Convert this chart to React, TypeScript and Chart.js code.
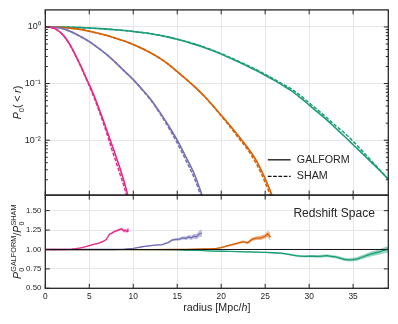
import React, { useEffect, useRef } from "react";
import { Chart, registerables } from "chart.js";

Chart.register(...registerables);

// ---------- axis ranges & ticks ----------
const xMin = 0;
const xMax = 39;
const xTicks = [0, 5, 10, 15, 20, 25, 30, 35];
const xTickLabels = ["0", "5", "10", "15", "20", "25", "30", "35"];
const logMin = 0.00107;
const logMax = 2.0;
const logTicks = [1, 0.1, 0.01];
const logTickLabels = ["10⁰", "10⁻¹", "10⁻²"];
const logMinorTicks = [
  0.002, 0.003, 0.004, 0.005, 0.006, 0.007, 0.008, 0.009,
  0.02, 0.03, 0.04, 0.05, 0.06, 0.07, 0.08, 0.09,
  0.2, 0.3, 0.4, 0.5, 0.6, 0.7, 0.8, 0.9,
];
const ratioMin = 0.5;
const ratioMax = 1.7;
const ratioTicks = [0.5, 0.75, 1.0, 1.25, 1.5];
const ratioTickLabels = ["0.50", "0.75", "1.00", "1.25", "1.50"];

// ---------- top panel: P0(<r) ----------
const pinkR = [0, 0.5, 1, 1.5, 2, 2.5, 3, 3.5, 4, 4.5, 5, 5.5, 6, 6.5, 7, 7.5, 8, 8.5, 9, 9.5];
const pinkGalform = [1, 0.991, 0.944, 0.851, 0.724, 0.575, 0.427, 0.302, 0.209, 0.141, 0.0955, 0.0631, 0.0398, 0.0245, 0.0148, 0.00891, 0.00537, 0.00316, 0.00178, 0.00089];
const pinkSham = [1, 0.991, 0.944, 0.851, 0.724, 0.575, 0.4245, 0.299, 0.2048, 0.1365, 0.091, 0.059, 0.0367, 0.0223, 0.0131, 0.00736, 0.00433, 0.00251, 0.00144, 0.00071];

const purpleR = [0, 1, 2, 3, 4, 5, 6, 7, 8, 9, 10, 11, 12, 13, 14, 15, 16, 17, 18];
const purpleGalform = [1, 0.9886, 0.9333, 0.8128, 0.6761, 0.5495, 0.4266, 0.3236, 0.2344, 0.166, 0.1175, 0.0794, 0.0525, 0.0316, 0.0182, 0.01, 0.00501, 0.0024, 0.000891];
const purpleSham = [1, 0.9886, 0.9333, 0.8128, 0.6761, 0.5495, 0.4266, 0.3236, 0.2344, 0.166, 0.1169, 0.0779, 0.0505, 0.0301, 0.01685, 0.00893, 0.00436, 0.00203, 0.000743];

const orangeR = [0, 1, 2, 3, 4, 5, 6, 7, 8, 9, 10, 11, 12, 13, 14, 15, 16, 17, 18, 19, 20, 21, 22, 23, 24, 25, 26];
const orangeGalform = [1, 0.9954, 0.9772, 0.9441, 0.9016, 0.8414, 0.7762, 0.7079, 0.631, 0.5623, 0.4898, 0.4169, 0.3467, 0.2818, 0.2188, 0.1622, 0.1202, 0.0871, 0.0617, 0.0417, 0.0275, 0.0182, 0.01175, 0.00741, 0.00437, 0.00209, 0.00087];
const orangeSham = [1, 0.9954, 0.9772, 0.9441, 0.9016, 0.8414, 0.7762, 0.7079, 0.631, 0.5623, 0.4898, 0.4169, 0.3467, 0.2818, 0.2188, 0.1622, 0.1202, 0.0868, 0.0613, 0.0413, 0.02687, 0.01725, 0.01083, 0.00686, 0.00383, 0.00179, 0.00074];

const greenR = [0, 1, 2, 3, 4, 5, 6, 7, 8, 9, 10, 11, 12, 13, 14, 15, 16, 17, 18, 19, 20, 21, 22, 23, 24, 25, 26, 27, 28, 29, 30, 31, 32, 33, 34, 35, 36, 37, 38, 39];
const greenGalform = [1, 0.9977, 0.9931, 0.984, 0.9727, 0.9572, 0.9376, 0.9162, 0.8913, 0.863, 0.8318, 0.7962, 0.7586, 0.7112, 0.6607, 0.6053, 0.5495, 0.492, 0.4365, 0.3819, 0.3311, 0.2831, 0.2399, 0.2028, 0.1698, 0.1403, 0.1148, 0.0927, 0.0741, 0.0562, 0.0417, 0.0309, 0.0229, 0.0164, 0.01175, 0.00832, 0.00589, 0.00417, 0.00295, 0.00204];
const greenSham = [1, 0.9977, 0.9931, 0.984, 0.9727, 0.9572, 0.9376, 0.9162, 0.8913, 0.863, 0.8318, 0.7962, 0.7586, 0.7112, 0.6607, 0.6083, 0.5551, 0.498, 0.4431, 0.3897, 0.3389, 0.2904, 0.2468, 0.2095, 0.1758, 0.1457, 0.1198, 0.0976, 0.0797, 0.0614, 0.0456, 0.034, 0.0249, 0.0181, 0.01347, 0.00956, 0.00654, 0.00444, 0.00304, 0.00203];

// ---------- bottom panel: GALFORM / SHAM ----------
const pinkRatioR = [0, 1, 2, 2.5, 3, 3.5, 4, 4.5, 5, 5.5, 6, 6.5, 6.9, 7.1, 7.3, 7.5, 7.7, 7.9, 8.1, 8.3, 8.5, 8.7, 8.9, 9.1, 9.3, 9.4];
const pinkRatio = [1, 1, 1, 1.001, 1.005, 1.012, 1.022, 1.035, 1.05, 1.065, 1.08, 1.1, 1.125, 1.16, 1.2, 1.205, 1.22, 1.235, 1.24, 1.25, 1.26, 1.265, 1.24, 1.245, 1.235, 1.27];
const pinkRatioErr = [0.002, 0.002, 0.003, 0.003, 0.004, 0.004, 0.005, 0.005, 0.006, 0.006, 0.007, 0.008, 0.009, 0.01, 0.01, 0.011, 0.012, 0.013, 0.014, 0.015, 0.016, 0.018, 0.02, 0.022, 0.025, 0.035];

const purpleRatioR = [0, 2, 4, 6, 8, 9, 10, 10.5, 11, 11.5, 12, 12.5, 13, 13.3, 13.6, 14, 14.4, 14.8, 15.2, 15.6, 16, 16.3, 16.6, 16.9, 17.2, 17.5, 17.8];
const purpleRatio = [1, 1, 1, 1, 1, 1.005, 1.015, 1.025, 1.035, 1.042, 1.05, 1.055, 1.06, 1.062, 1.075, 1.09, 1.12, 1.13, 1.13, 1.15, 1.145, 1.16, 1.15, 1.17, 1.165, 1.2, 1.21];
const purpleRatioErr = [0.002, 0.002, 0.003, 0.003, 0.004, 0.004, 0.005, 0.005, 0.006, 0.006, 0.007, 0.008, 0.009, 0.01, 0.011, 0.012, 0.014, 0.016, 0.018, 0.02, 0.022, 0.025, 0.028, 0.03, 0.035, 0.04, 0.05];

const orangeRatioR = [0, 4, 8, 12, 15, 16, 17, 18, 19, 19.5, 20, 20.5, 21, 21.5, 22, 22.5, 23, 23.5, 24, 24.5, 25, 25.3, 25.6];
const orangeRatio = [0.998, 0.998, 0.998, 0.999, 1.0, 1.002, 1.004, 1.006, 1.01, 1.015, 1.025, 1.04, 1.055, 1.07, 1.085, 1.1, 1.085, 1.13, 1.145, 1.15, 1.17, 1.2, 1.16];
const orangeRatioErr = [0.002, 0.002, 0.002, 0.003, 0.004, 0.004, 0.005, 0.006, 0.007, 0.008, 0.009, 0.01, 0.012, 0.014, 0.015, 0.017, 0.019, 0.021, 0.024, 0.027, 0.03, 0.04, 0.05];

const greenRatioR = [0, 5, 10, 15, 16, 17, 18, 19, 20, 21, 22, 23, 24, 25, 26, 27, 27.5, 28, 28.5, 29, 29.5, 30, 30.5, 31, 31.5, 32, 32.5, 33, 33.5, 34, 34.5, 35, 35.5, 36, 36.5, 37, 37.5, 38, 38.5, 39];
const greenRatio = [0.999, 0.998, 0.998, 0.995, 0.99, 0.988, 0.985, 0.98, 0.977, 0.975, 0.972, 0.968, 0.966, 0.963, 0.958, 0.95, 0.94, 0.93, 0.92, 0.915, 0.912, 0.914, 0.913, 0.91, 0.915, 0.92, 0.912, 0.905, 0.89, 0.872, 0.865, 0.87, 0.88, 0.9, 0.92, 0.94, 0.955, 0.97, 0.99, 1.005];
const greenRatioErr = [0.002, 0.002, 0.003, 0.004, 0.004, 0.005, 0.005, 0.006, 0.006, 0.007, 0.007, 0.008, 0.008, 0.009, 0.009, 0.01, 0.011, 0.012, 0.013, 0.014, 0.015, 0.015, 0.016, 0.016, 0.017, 0.018, 0.018, 0.019, 0.02, 0.02, 0.021, 0.022, 0.024, 0.026, 0.028, 0.03, 0.032, 0.034, 0.037, 0.04];

const unityX = [0, 39];
const unityY = [1, 1];

// ---------- style ----------
const FONT = "'Liberation Sans', Arial, sans-serif";
const TEXT = "#262626";
const FRAME = "#262626";
const GRID = "#e6e6e6";
const PINK = "#e7298a";
const PURPLE = "#7570b3";
const ORANGE = "#d95f02";
const GREEN = "#1b9e77";
const alpha = (hex: string, a: number) => {
  const n = parseInt(hex.slice(1), 16);
  return `rgba(${(n >> 16) & 255},${(n >> 8) & 255},${n & 255},${a})`;
};

const pts = (xs: number[], ys: number[]) => xs.map((x, i) => ({ x, y: ys[i] }));

function topPair(r: number[], gal: number[], sham: number[], color: string) {
  return [
    {
      data: pts(r, sham), yAxisID: "y", borderColor: color, borderWidth: 1.5,
      borderDash: [3.7, 1.6], pointRadius: 0, fill: false, cubicInterpolationMode: "monotone", order: 1,
    },
    {
      data: pts(r, gal), yAxisID: "y", borderColor: color, borderWidth: 1.6,
      pointRadius: 0, fill: false, cubicInterpolationMode: "monotone", order: 2,
    },
  ];
}

function ratioSet(r: number[], v: number[], e: number[], color: string) {
  const lo = v.map((y, i) => y - e[i]);
  const hi = v.map((y, i) => y + e[i]);
  return [
    { data: pts(r, lo), yAxisID: "y2", borderWidth: 0, pointRadius: 0, fill: false, order: 5 },
    {
      data: pts(r, hi), yAxisID: "y2", borderWidth: 0, pointRadius: 0, fill: "-1",
      backgroundColor: alpha(color, 0.45), order: 5,
    },
    { data: pts(r, v), yAxisID: "y2", borderColor: color, borderWidth: 1.3, pointRadius: 0, fill: false, order: 3 },
  ];
}

type Piece = { t: string; size: number; italic?: boolean; dy?: number; pre?: number; gap?: number };

function drawMath(ctx: CanvasRenderingContext2D, groups: Piece[][], x: number, y: number, angle: number) {
  const f = (p: Piece) => `${p.italic ? "italic " : ""}${p.size}px ${FONT}`;
  const widths = groups.map((g) =>
    Math.max(...g.map((p) => { ctx.font = f(p); return ctx.measureText(p.t).width + (p.pre || 0) + (p.gap || 0); }))
  );
  const total = widths.reduce((a, b) => a + b, 0);
  ctx.save();
  ctx.translate(x, y);
  ctx.rotate(angle);
  ctx.textAlign = "left";
  ctx.textBaseline = "alphabetic";
  ctx.fillStyle = TEXT;
  let cx = -total / 2;
  groups.forEach((g, i) => {
    g.forEach((p) => { ctx.font = f(p); ctx.fillText(p.t, cx + (p.pre || 0), p.dy || 0); });
    cx += widths[i];
  });
  ctx.restore();
}

const framePlugin = {
  id: "framePlugin",
  beforeDatasetDraw(chart: any, args: any) {
    const ds = chart.data.datasets[args.index];
    const sc = chart.scales[ds.yAxisID];
    const ca = chart.chartArea;
    const ctx = chart.ctx;
    ctx.save();
    ctx.beginPath();
    ctx.rect(ca.left, sc.top, ca.right - ca.left, sc.bottom - sc.top);
    ctx.clip();
  },
  afterDatasetDraw(chart: any) {
    chart.ctx.restore();
  },
  afterDraw(chart: any) {
    const ctx: CanvasRenderingContext2D = chart.ctx;
    const ca = chart.chartArea;
    const xs = chart.scales.x;
    const ys = chart.scales.y;
    const rs = chart.scales.y2;
    const MAJ = 4.5;
    const MIN = 2.5;
    ctx.save();
    ctx.strokeStyle = FRAME;
    ctx.lineWidth = 1;
    ctx.beginPath();
    for (const p of [ys, rs]) {
      for (const v of xTicks) {
        const x = xs.getPixelForValue(v);
        ctx.moveTo(x, p.top); ctx.lineTo(x, p.top + MAJ);
        ctx.moveTo(x, p.bottom); ctx.lineTo(x, p.bottom - MAJ);
      }
    }
    for (const v of logTicks) {
      const y = ys.getPixelForValue(v);
      ctx.moveTo(ca.left, y); ctx.lineTo(ca.left + MAJ, y);
      ctx.moveTo(ca.right, y); ctx.lineTo(ca.right - MAJ, y);
    }
    for (const v of logMinorTicks) {
      const y = ys.getPixelForValue(v);
      ctx.moveTo(ca.left, y); ctx.lineTo(ca.left + MIN, y);
      ctx.moveTo(ca.right, y); ctx.lineTo(ca.right - MIN, y);
    }
    for (const v of ratioTicks) {
      const y = rs.getPixelForValue(v);
      ctx.moveTo(ca.left, y); ctx.lineTo(ca.left + MAJ, y);
      ctx.moveTo(ca.right, y); ctx.lineTo(ca.right - MAJ, y);
    }
    ctx.stroke();

    ctx.lineWidth = 1.3;
    ctx.strokeRect(ca.left, ys.top, ca.right - ca.left, ys.bottom - ys.top);
    ctx.strokeRect(ca.left, rs.top, ca.right - ca.left, rs.bottom - rs.top);

    // legend
    const lx0 = xs.getPixelForValue(25.3);
    const lx1 = xs.getPixelForValue(27.9);
    const ly1 = ys.getPixelForValue(0.0045);
    const ly2 = ys.getPixelForValue(0.0023);
    ctx.strokeStyle = "#111";
    ctx.lineWidth = 1.3;
    ctx.beginPath(); ctx.moveTo(lx0, ly1); ctx.lineTo(lx1, ly1); ctx.stroke();
    ctx.setLineDash([3.7, 1.6]);
    ctx.beginPath(); ctx.moveTo(lx0, ly2); ctx.lineTo(lx1, ly2); ctx.stroke();
    ctx.setLineDash([]);
    ctx.fillStyle = TEXT;
    ctx.font = `10.7px ${FONT}`;
    ctx.textAlign = "left";
    ctx.textBaseline = "middle";
    const tx = xs.getPixelForValue(28.6);
    ctx.fillText("GALFORM", tx, ly1);
    ctx.fillText("SHAM", tx, ly2);

    // panel annotation
    ctx.font = `12px ${FONT}`;
    ctx.textAlign = "right";
    ctx.fillText("Redshift Space", ca.right - 13.5, rs.getPixelForValue(1.455));

    // axis titles
    drawMath(ctx, [[{ t: "radius [Mpc/", size: 10.7 }], [{ t: "h", size: 10.7, italic: true }], [{ t: "]", size: 10.7 }]],
      (ca.left + ca.right) / 2, 310.7, 0);
    drawMath(ctx, [
      [{ t: "P", size: 10.7, italic: true }],
      [{ t: "0", size: 7.5, dy: 2.6 }],
      [{ t: "(", size: 10.7, gap: 0.5 }],
      [{ t: "<", size: 10.7, pre: 2.2, gap: 2.6 }],
      [{ t: "r", size: 10.7, italic: true }],
      [{ t: ")", size: 10.7 }],
    ], 21, (ys.top + ys.bottom) / 2, -Math.PI / 2);
    drawMath(ctx, [
      [{ t: "P", size: 10.7, italic: true }],
      [{ t: "GALFORM", size: 7.3, dy: -4.4 }, { t: "0", size: 7.3, dy: 3 }],
      [{ t: "/", size: 10.7 }],
      [{ t: "P", size: 10.7, italic: true }],
      [{ t: "SHAM", size: 7.3, dy: -4.4 }, { t: "0", size: 7.3, dy: 3 }],
    ], 20.5, (rs.top + rs.bottom) / 2, -Math.PI / 2);
    ctx.restore();
  },
};

export default function App() {
  const ref = useRef<HTMLCanvasElement>(null);
  useEffect(() => {
    const datasets: any[] = [
      { data: pts(unityX, unityY), yAxisID: "y2", borderColor: "#111", borderWidth: 1, pointRadius: 0, fill: false, order: 0 },
      ...ratioSet(pinkRatioR, pinkRatio, pinkRatioErr, PINK),
      ...ratioSet(purpleRatioR, purpleRatio, purpleRatioErr, PURPLE),
      ...ratioSet(orangeRatioR, orangeRatio, orangeRatioErr, ORANGE),
      ...ratioSet(greenRatioR, greenRatio, greenRatioErr, GREEN),
      ...topPair(pinkR, pinkGalform, pinkSham, PINK),
      ...topPair(purpleR, purpleGalform, purpleSham, PURPLE),
      ...topPair(orangeR, orangeGalform, orangeSham, ORANGE),
      ...topPair(greenR, greenGalform, greenSham, GREEN),
    ];
    const chart = new Chart(ref.current as HTMLCanvasElement, {
      type: "line",
      data: { datasets },
      options: {
        animation: false,
        responsive: false,
        devicePixelRatio: 1,
        layout: { padding: { left: 0, right: 9.7, top: 9.5, bottom: 0 } },
        plugins: { legend: { display: false }, tooltip: { enabled: false } },
        scales: {
          x: {
            type: "linear", min: xMin, max: xMax, position: "bottom",
            afterBuildTicks: (s: any) => { s.ticks = xTicks.map((v) => ({ value: v })); },
            afterFit: (s: any) => { s.height = 35.7; },
            grid: { color: GRID, lineWidth: 1, drawTicks: false },
            border: { display: false },
            ticks: {
              padding: 3, font: { family: FONT, size: 8.4 }, color: TEXT, maxRotation: 0, autoSkip: false,
              callback: (v: any) => xTickLabels[xTicks.indexOf(Number(v))] ?? "",
            },
          },
          y: {
            type: "logarithmic", min: logMin, max: logMax, position: "left",
            stack: "panels", stackWeight: 185.5, weight: 2,
            afterBuildTicks: (s: any) => { s.ticks = logTicks.map((v) => ({ value: v })); },
            afterFit: (s: any) => { s.width = 45.3; },
            grid: { color: GRID, lineWidth: 1, drawTicks: false },
            border: { display: false },
            ticks: {
              padding: 4.5, font: { family: FONT, size: 9 }, color: TEXT, autoSkip: false,
              callback: (v: any) => logTickLabels[logTicks.indexOf(Number(v))] ?? "",
            },
          },
          y2: {
            type: "linear", min: ratioMin, max: ratioMax, position: "left",
            stack: "panels", stackWeight: 93.3, weight: 1,
            afterBuildTicks: (s: any) => { s.ticks = ratioTicks.map((v) => ({ value: v })); },
            afterFit: (s: any) => { s.width = 45.3; },
            grid: { color: GRID, lineWidth: 1, drawTicks: false },
            border: { display: false },
            ticks: {
              padding: 4, font: { family: FONT, size: 7.8 }, color: TEXT, autoSkip: false,
              callback: (v: any) => ratioTickLabels[ratioTicks.indexOf(Number(v))] ?? "",
            },
          },
        },
      } as any,
      plugins: [framePlugin as any],
    });
    return () => chart.destroy();
  }, []);
  return (
    <div style={{ position: "fixed", left: 0, top: 0, width: 398, height: 324, background: "#fff" }}>
      <canvas ref={ref} width={398} height={324} style={{ width: 398, height: 324, display: "block" }} />
    </div>
  );
}
